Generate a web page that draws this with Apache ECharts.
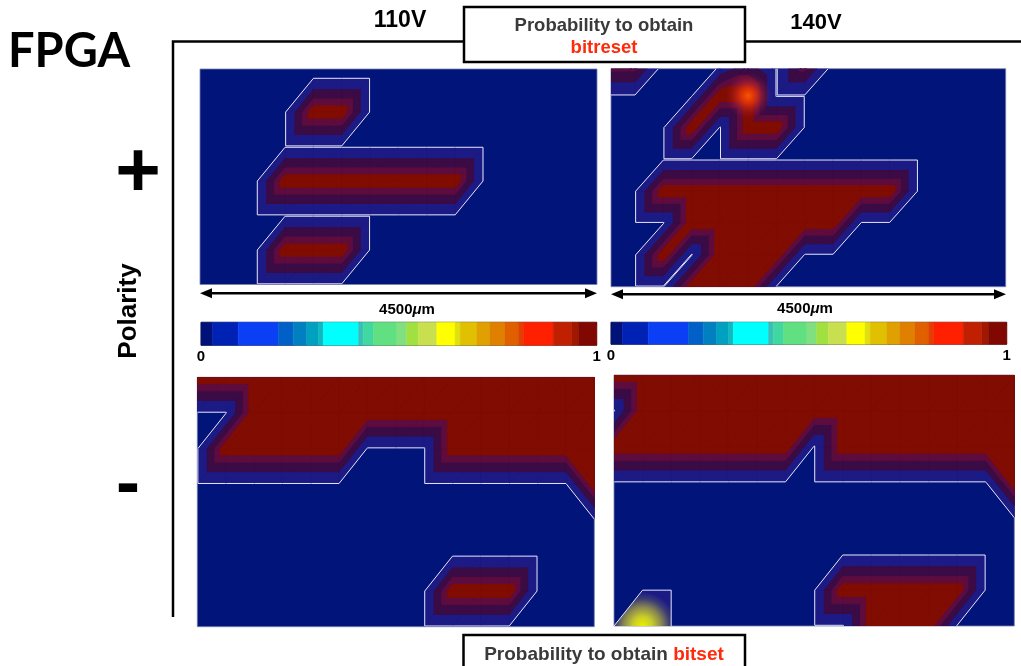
<!DOCTYPE html>
<html><head><meta charset="utf-8">
<script src="https://cdn.jsdelivr.net/npm/echarts@6/dist/echarts.min.js"></script>
<style>html,body{margin:0;padding:0;background:#fff}#c{width:1021px;height:666px}</style>
</head><body><div id="c"></div><script>
// ---- Data: probability grids (rows top->bottom, 15 columns) ----
const bitreset110 = [
  [0,0,0,0,0,0,0,0,0,0,0,0,0,0,0],
  [0,0,0,0,0,0,0,0,0,0,0,0,0,0,0],
  [0,0,0,0,1,1,0,0,0,0,0,0,0,0,0],
  [0,0,0,0,0,0,0,0,0,0,0,0,0,0,0],
  [0,0,0,1,1,1,1,1,1,1,0,0,0,0,0],
  [0,0,0,0,0,0,0,0,0,0,0,0,0,0,0],
  [0,0,0,1,1,1,0,0,0,0,0,0,0,0,0],
  [0,0,0,0,0,0,0,0,0,0,0,0,0,0,0]
];
const bitreset140 = [
  [0.8,0.8,0,0,0,0.4,0,0.8,0,0,0,0,0,0,0],
  [0,0,0,0,1,1,0,0,0,0,0,0,0,0,0],
  [0,0,0,1,0,1,1,0,0,0,0,0,0,0,0],
  [0,0,0,0,0,0,0,0,0,0,0,0,0,0,0],
  [0,0,1,1,1,1,1,1,1,1,1,0,0,0,0],
  [0,0,0,1,1,1,1,1,1,0,0,0,0,0,0],
  [0,0,1,0,1,1,1,0,0,0,0,0,0,0,0],
  [0,0,0,1,1,1,0,0,0,0,0,0,0,0,0]
];
const bitset110 = [
  [1,1,1,1,1,1,1,1,1,1,1,1,1,1,1],
  [0,0,1,1,1,1,1,1,1,1,1,1,1,1,1],
  [0,1,1,1,1,1,0,0,0,1,1,1,1,1,1],
  [0,0,0,0,0,0,0,0,0,0,0,0,0,0,1],
  [0,0,0,0,0,0,0,0,0,0,0,0,0,0,0],
  [0,0,0,0,0,0,0,0,0,0,0,0,0,0,0],
  [0,0,0,0,0,0,0,0,0,1,1,1,0,0,0],
  [0,0,0,0,0,0,0,0,0,0,0,0,0,0,0]
];
const bitset140 = [
  [1,1,1,1,1,1,1,1,1,1,1,1,1,1,1],
  [0,1,1,1,1,1,1,1,1,1,1,1,1,1,1],
  [1,1,1,1,1,1,1,0,1,1,1,1,1,1,1],
  [0,0,0,0,0,0,0,0,0,0,0,0,0,0,1],
  [0,0,0,0,0,0,0,0,0,0,0,0,0,0,0],
  [0,0,0,0,0,0,0,0,0,0,0,0,0,0,0],
  [0,0,0,0,0,0,0,0,1,1,1,1,1,0,0],
  [0,0,0,0,0,0,0,0,0,1,1,1,0,0,0]
];
// cells triangulated along the other diagonal
const flips110 = [[13,2],[13,3]];
const flips140 = [[13,2],[13,3]];
// local hot points [col,row]
const glow140 = [[5,1]];
const spot140 = [[1,7]];
// contour levels and colour bar
const contourLevels = [0.02, 0.35, 0.62, 0.82];
const cbEdges = [0,.029,.094,.195,.233,.267,.297,.309,.398,.410,.436,.495,.520,.549,.596,.642,.655,.697,.730,.768,.802,.815,.890,.937,.954,1];
const cbColors = ['#00127a','#0022b4','#0b3ff5','#0060c8','#0080c0','#00a0c0','#10b8c0','#00ffff','#38c0b8','#40d8a0','#60e080','#80e080','#a0e040','#c8e050','#ffff00','#e0e010','#e0c000','#e0a000','#e08000','#e06000','#e04000','#ff2000','#c02000','#a01800','#800800'];
const cbTickLabels = ['0','1'];

// ---- styles ----
const bgNavy = '#00147a';
const bandColors = ['#1c1a84','#3b0b45','#5e0b3e','#800c02'];
const lineWhite = '#e4e8fb';

function clipPoly(poly, L) {
  const out = [];
  for (let i = 0; i < poly.length; i++) {
    const a = poly[i], b = poly[(i + 1) % poly.length];
    const ia = a[2] >= L, ib = b[2] >= L;
    if (ia) out.push(a);
    if (ia !== ib) {
      const t = (L - a[2]) / (b[2] - a[2]);
      out.push([a[0] + t * (b[0] - a[0]), a[1] + t * (b[1] - a[1]), L]);
    }
  }
  return out;
}
function isoSeg(tri, L) {
  const pts = [];
  for (let i = 0; i < 3; i++) {
    const a = tri[i], b = tri[(i + 1) % 3];
    if ((a[2] - L) * (b[2] - L) < 0) {
      const t = (L - a[2]) / (b[2] - a[2]);
      pts.push([a[0] + t * (b[0] - a[0]), a[1] + t * (b[1] - a[1])]);
    }
  }
  return pts.length === 2 ? pts : null;
}
function triangleOf(grid, fs, c, r, t) {
  const TL = [c, r, grid[r][c]], TR = [c + 1, r, grid[r][c + 1]];
  const BL = [c, r + 1, grid[r + 1][c]], BR = [c + 1, r + 1, grid[r + 1][c + 1]];
  if (fs.has(c + ',' + r)) return t === 0 ? [TL, TR, BR] : [TL, BR, BL];
  return t === 0 ? [TL, TR, BL] : [TR, BR, BL];
}
function bandRender(grid, flips, b) {
  const fs = new Set(flips.map(f => f[0] + ',' + f[1]));
  return function (params, api) {
    const tri = triangleOf(grid, fs, api.value(0), api.value(1), api.value(2));
    const poly = clipPoly(tri, contourLevels[b]);
    if (poly.length < 3) return null;
    return {type: 'polygon', shape: {points: poly.map(p => api.coord([p[0], p[1]]))},
      style: {fill: bandColors[b], stroke: bandColors[b], lineWidth: 1, lineJoin: 'round'}};
  };
}
function lineRender(grid, flips) {
  const fs = new Set(flips.map(f => f[0] + ',' + f[1]));
  return function (params, api) {
    const tri = triangleOf(grid, fs, api.value(0), api.value(1), api.value(2));
    const seg = isoSeg(tri, contourLevels[0]);
    if (!seg) return null;
    const p1 = api.coord(seg[0]), p2 = api.coord(seg[1]);
    return {type: 'line', shape: {x1: p1[0], y1: p1[1], x2: p2[0], y2: p2[1]},
      style: {stroke: lineWhite, lineWidth: 1}};
  };
}
function triData(grid) {
  const d = [];
  for (let r = 0; r < grid.length - 1; r++)
    for (let c = 0; c < grid[0].length - 1; c++) { d.push([c, r, 0]); d.push([c, r, 1]); }
  return d;
}
function glowRender(params, api) {
  const p = api.coord([api.value(0), api.value(1)]);
  return {type: 'circle', shape: {cx: p[0], cy: p[1], r: 23}, style: {fill: {type: 'radial', x: p[0], y: p[1], r: 23, global: true,
    colorStops: [{offset: 0, color: 'rgba(255,90,0,0.95)'}, {offset: 0.35, color: 'rgba(240,55,10,0.75)'}, {offset: 0.7, color: 'rgba(200,40,40,0.3)'}, {offset: 1, color: 'rgba(160,30,60,0)'}]}}};
}
function spotRender(params, api) {
  const c = api.value(0), r = api.value(1);
  const pts = [[c - 1, r], [c, r - 1], [c + 1, r - 1], [c + 1, r], [c, r + 1], [c - 1, r + 1]].map(q => api.coord(q));
  const p = api.coord([c, r]);
  return {type: 'polygon', shape: {points: pts}, style: {stroke: lineWhite, lineWidth: 1,
    fill: {type: 'radial', x: p[0], y: p[1], r: 34, global: true,
      colorStops: [{offset: 0, color: '#eef000'}, {offset: 0.28, color: '#c8cc2a'}, {offset: 0.55, color: '#8a8850'}, {offset: 0.8, color: '#3c3c74'}, {offset: 1, color: '#1c1a84'}]}}};
}

const panels = [
  {grid: {left: 200, top: 69, width: 397, height: 215.5}, x: [0, 14], y: [0.75, 7], data: bitreset110, flips: []},
  {grid: {left: 611, top: 68.7, width: 394.7, height: 218}, x: [0.15, 14.1], y: [0.15, 7], data: bitreset140, flips: [], glow: glow140},
  {grid: {left: 197.3, top: 377.3, width: 397, height: 249.4}, x: [0, 14], y: [0, 7], data: bitset110, flips: flips110},
  {grid: {left: 614, top: 375, width: 400.3, height: 251}, x: [0, 14], y: [0, 7], data: bitset140, flips: flips140, spot: spot140}
];
const cbGrids = [
  {left: 201, top: 322.3, width: 395.7, height: 23},
  {left: 611, top: 322.3, width: 395.7, height: 22}
];

const grids = [], xAxes = [], yAxes = [], series = [];
panels.forEach((p, i) => {
  grids.push(Object.assign({show: true, backgroundColor: bgNavy, borderColor: 'rgba(120,130,170,0.8)', borderWidth: 1}, p.grid));
  xAxes.push({type: 'value', gridIndex: i, min: p.x[0], max: p.x[1], show: false});
  yAxes.push({type: 'value', gridIndex: i, min: p.y[0], max: p.y[1], inverse: true, show: false});
  const td = triData(p.data);
  contourLevels.forEach((lv, b) => {
    series.push({type: 'custom', xAxisIndex: i, yAxisIndex: i, clip: true, silent: true,
      renderItem: bandRender(p.data, p.flips, b), data: td, encode: {x: 0, y: 1}, z: 2 + b});
  });
  if (p.glow) series.push({type: 'custom', xAxisIndex: i, yAxisIndex: i, clip: true, silent: true,
    renderItem: glowRender, data: p.glow, encode: {x: 0, y: 1}, z: 7});
  if (p.spot) series.push({type: 'custom', xAxisIndex: i, yAxisIndex: i, clip: true, silent: true,
    renderItem: spotRender, data: p.spot, encode: {x: 0, y: 1}, z: 7});
  series.push({type: 'custom', xAxisIndex: i, yAxisIndex: i, clip: true, silent: true,
    renderItem: lineRender(p.data, p.flips), data: td, encode: {x: 0, y: 1}, z: 8});
});
cbGrids.forEach((g, k) => {
  const gi = grids.length;
  grids.push(Object.assign({show: true, borderColor: '#444', borderWidth: 1}, g));
  const xi = xAxes.length;
  xAxes.push({type: 'value', gridIndex: gi, min: 0, max: 1, interval: 0.1, position: 'bottom',
    axisLine: {show: false}, splitLine: {show: false},
    axisTick: {inside: true, length: 3, lineStyle: {color: '#222', width: 1}},
    axisLabel: {margin: 4, fontSize: 15, fontWeight: 'bold', color: '#000', fontFamily: 'Liberation Sans',
      formatter: v => (Math.abs(v) < 1e-6 ? cbTickLabels[0] : (Math.abs(v - 1) < 1e-6 ? cbTickLabels[1] : ''))}});
  xAxes.push({type: 'value', gridIndex: gi, min: 0, max: 1, interval: 0.1, position: 'top',
    axisLine: {show: false}, splitLine: {show: false}, axisLabel: {show: false},
    axisTick: {inside: true, length: 3, lineStyle: {color: '#222', width: 1}}});
  const yi = yAxes.length;
  yAxes.push({type: 'value', gridIndex: gi, min: 0, max: 1, show: false});
  const segs = cbColors.map((col, j) => [cbEdges[j], cbEdges[j + 1], j]);
  series.push({type: 'custom', xAxisIndex: xi, yAxisIndex: yi, silent: true, z: 1,
    data: segs, encode: {x: [0, 1]},
    renderItem: (params, api) => {
      const a = api.coord([api.value(0), 1]), b = api.coord([api.value(1), 0]);
      const col = cbColors[api.value(2)];
      return {type: 'rect', shape: {x: a[0], y: a[1], width: b[0] - a[0], height: b[1] - a[1]},
        style: {fill: col, stroke: col, lineWidth: 0.5}};
    }});
});

function txt(x, y, text, size, opts) {
  return Object.assign({type: 'text', x: x, y: y, z: 100, style: Object.assign({text: text, fontSize: size, fontWeight: 'bold',
    fontFamily: 'Liberation Sans', fill: '#000', align: 'center', verticalAlign: 'middle',
    textAlign: 'center', textVerticalAlign: 'middle'}, (opts && opts.style) || {})}, (opts && opts.el) || {});
}
function arrow(x1, x2, y) {
  return [
    {type: 'line', z: 100, shape: {x1: x1 + 6, y1: y, x2: x2 - 6, y2: y}, style: {stroke: '#000', lineWidth: 2.5}},
    {type: 'polygon', z: 100, shape: {points: [[x1, y], [x1 + 12, y - 5], [x1 + 12, y + 5]]}, style: {fill: '#000'}},
    {type: 'polygon', z: 100, shape: {points: [[x2, y], [x2 - 12, y - 5], [x2 - 12, y + 5]]}, style: {fill: '#000'}}
  ];
}
const umRich = {i: {fontStyle: 'italic', fontWeight: 'bold', fontSize: 15, fontFamily: 'Liberation Sans', fill: '#000'}};
const graphics = [
  {type: 'polyline', z: 90, shape: {points: [[173, 617], [173, 41.5], [464, 41.5]]}, style: {stroke: '#000', lineWidth: 2.5, fill: null}},
  {type: 'line', z: 90, shape: {x1: 745, y1: 41.5, x2: 1021, y2: 41.5}, style: {stroke: '#000', lineWidth: 2.5}},
  {type: 'rect', z: 95, shape: {x: 464, y: 7, width: 281, height: 55}, style: {fill: '#fff', stroke: '#000', lineWidth: 2.5}},
  {type: 'rect', z: 95, shape: {x: 463.5, y: 635, width: 281.5, height: 40}, style: {fill: '#fff', stroke: '#000', lineWidth: 2.5}},
  txt(69, 52, 'FPGA', 47, {style: {fontFamily: 'Lato'}}),
  txt(400, 21, '110V', 23),
  txt(816, 23, '140V', 22),
  txt(604, 26, 'Probability to obtain', 18.5, {style: {fill: '#3a3a3a'}}),
  txt(604, 47.5, 'bitreset', 18.5, {style: {fill: '#ff2a0a'}}),
  txt(604, 654.5, 'Probability to obtain {r|bitset}', 19, {style: {fill: '#3a3a3a',
    rich: {r: {fill: '#ff2a0a', color: '#ff2a0a', fontSize: 19, fontWeight: 'bold', fontFamily: 'Liberation Sans'}}}}),
  txt(138, 174, '+', 78),
  txt(129, 311, 'Polarity', 26, {el: {rotation: Math.PI / 2}}),
  txt(128, 486, '-', 72),
  txt(407, 310, '4500{i|μ}m', 15, {style: {rich: umRich}}),
  txt(805, 309, '4500{i|μ}m', 15, {style: {rich: umRich}})
].concat(arrow(200, 597, 293.3), arrow(611, 1006, 294.3));

const chart = echarts.init(document.getElementById('c'), null, {renderer: 'canvas'});
chart.setOption({
  animation: false,
  backgroundColor: '#fff',
  grid: grids, xAxis: xAxes, yAxis: yAxes, series: series,
  graphic: {elements: graphics}
});
</script></body></html>
